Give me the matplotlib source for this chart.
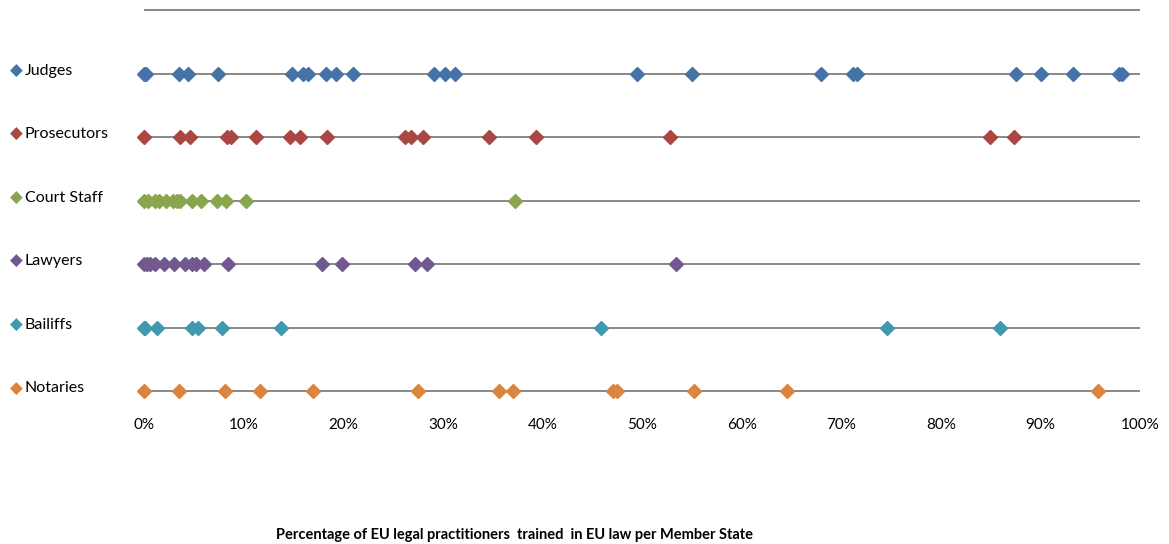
import matplotlib
matplotlib.use("Agg")
import matplotlib.pyplot as plt
from matplotlib.ticker import FuncFormatter

categories = ["Judges", "Prosecutors", "Court Staff", "Lawyers", "Bailiffs", "Notaries"]
colors = ["#4572A7", "#AA4643", "#89A54E", "#71588F", "#4198AF", "#DB843D"]

judges = [0, 0.2, 3.5, 4.4, 7.4, 14.9, 16.0, 16.5, 18.3, 19.3, 21.0, 29.1, 30.2, 31.2,
          49.5, 55.0, 68.0, 71.2, 71.6, 87.5, 90.1, 93.3, 97.9, 98.2]
prosecutors = [0, 3.6, 4.6, 8.3, 8.7, 11.2, 14.7, 15.7, 18.4, 26.2, 26.8, 28.0, 34.6,
               39.4, 52.8, 84.9, 87.3]
court_staff = [0, 0.4, 1.1, 1.5, 2.2, 2.9, 3.3, 3.6, 4.8, 5.7, 7.3, 8.2, 10.2, 37.2]
lawyers = [0, 0.3, 0.6, 1.1, 2.0, 3.0, 4.1, 4.8, 5.2, 6.0, 8.4, 17.9, 19.9, 27.2, 28.4, 53.4]
bailiffs = [0, 0.1, 1.3, 4.8, 5.4, 7.8, 13.8, 45.9, 74.6, 85.9]
notaries = [0, 3.5, 8.1, 11.6, 17.0, 27.5, 35.6, 37.0, 47.1, 47.5, 55.2, 64.6, 95.8]

series = [judges, prosecutors, court_staff, lawyers, bailiffs, notaries]
xticks = [0, 10, 20, 30, 40, 50, 60, 70, 80, 90, 100]
xlabel = "Percentage of EU legal practitioners  trained  in EU law per Member State"

plt.rcParams['font.family'] = ['Lato', 'DejaVu Sans']

W, H = 1169, 544
fig = plt.figure(figsize=(W / 100, H / 100), dpi=100)
ax = fig.add_axes([144 / W, 1 - 415 / H, (1140 - 144) / W, (415 - 10) / H])

n = len(categories)
ys = [n - i for i in range(n)]
ax.set_xlim(0, 100)
ax.set_ylim(0.63, n + 1)

# grid lines (rows + top line)
for yv in ys + [n + 1]:
    ax.plot([0, 100], [yv, yv], color="#888888", lw=1.4, zorder=1, clip_on=False,
            solid_capstyle="butt")

for vals, yv, c in zip(series, ys, colors):
    ax.plot(vals, [yv] * len(vals), linestyle="none", marker="D", markersize=7.5,
            color=c, markeredgecolor=c, zorder=3, clip_on=False)

for s in ax.spines.values():
    s.set_visible(False)
ax.set_yticks([])
ax.set_xticks(xticks)
ax.xaxis.set_major_formatter(FuncFormatter(lambda v, p: f"{int(v)}%"))
ax.tick_params(axis="x", length=0, labelsize=11, pad=2, colors="#000000")

# left legend-like labels
for cat, yv, c in zip(categories, ys, colors):
    ypix = ax.transData.transform((0, yv))[1]
    yfig = (ypix + 3) / H
    fig.text(16 / W, yfig, "\u25C6", color=c, fontsize=12, ha="center", va="center",
             family=["DejaVu Sans"])
    fig.text(25 / W, yfig, cat, color="#000000", fontsize=11.5, ha="left", va="center")

fig.text(515 / W, 1 - 535 / H, xlabel, fontsize=10.5, fontweight="bold", ha="center",
         va="center")

fig.savefig("out.png", dpi=100, facecolor="white")
